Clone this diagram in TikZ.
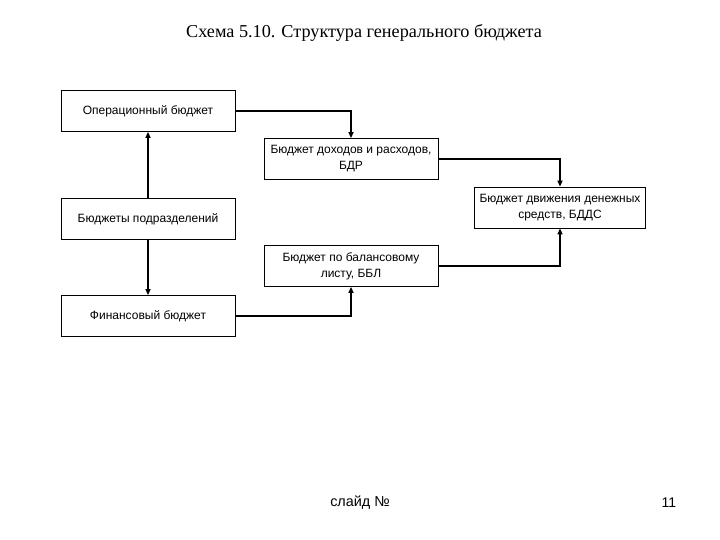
\documentclass[tikz,border=0pt]{standalone}
\usepackage{fontspec}
\setmainfont{Liberation Serif}
\newfontfamily\arialf{Liberation Sans}
\usetikzlibrary{arrows.meta}
\begin{document}
\begin{tikzpicture}[x=1pt,y=-1pt,
  box/.style={draw, line width=0.8pt, minimum width=174pt, minimum height=41pt, inner sep=1pt, align=center, font=\arialf\fontsize{12}{16}\selectfont},
  conn/.style={line width=2pt, -{Triangle[length=6pt,width=5pt]}}]
\useasboundingbox (0,0) rectangle (720,540);
\node (title) at (364,33) {\fontsize{18.2}{20}\selectfont Схема 5.10. Структура генерального бюджета};
\node[box] (op) at (148,111) {Операционный бюджет};
\node[box] (bdr) at (351,159) {Бюджет доходов и расходов,\\БДР};
\node[box, minimum width=171pt] (bdds) at (560,207.5) {Бюджет движения денежных\\средств, БДДС};
\node[box] (pod) at (148,219) {Бюджеты подразделений};
\node[box] (bbl) at (351,266) {Бюджет по балансовому\\листу, ББЛ};
\node[box] (fin) at (148,316) {Финансовый бюджет};
\draw[conn] (op.east) -| (bdr.north);
\draw[conn] (bdr.east) -| (bdds.north);
\draw[conn] (pod.north) -- (op.south);
\draw[conn] (pod.south) -- (fin.north);
\draw[conn] (fin.east) -| (bbl.south);
\draw[conn] (bbl.east) -| (bdds.south);
\node[font=\arialf\fontsize{14.4}{16}\selectfont] (slide) at (360,503) {слайд №};
\node[font=\arialf\fontsize{14}{16}\selectfont] (num) at (669,503) {11};
\end{tikzpicture}
\end{document}
